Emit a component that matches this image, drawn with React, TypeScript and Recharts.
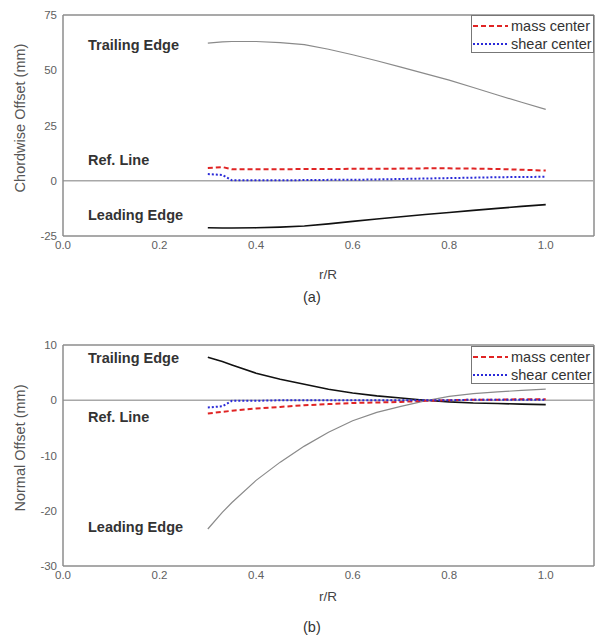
import {
  Line,
  LineChart,
  ReferenceLine,
  XAxis,
  YAxis,
} from 'recharts'

// spanwise stations (r/R)
const rPos = [0.3, 0.33, 0.35, 0.4, 0.45, 0.5, 0.55, 0.6, 0.65, 0.7, 0.75, 0.8, 0.85, 0.9, 0.95, 1.0]

// (a) chordwise offsets, mm
const chordTrailing = [62.3, 62.8, 63.0, 63.0, 62.5, 61.6, 59.5, 57.0, 54.3, 51.4, 48.5, 45.5, 42.2, 38.8, 35.5, 32.3]
const chordLeading = [-21.3, -21.4, -21.4, -21.3, -21.0, -20.5, -19.5, -18.4, -17.3, -16.3, -15.3, -14.4, -13.4, -12.5, -11.6, -10.8]
const chordMass = [5.8, 6.2, 5.2, 5.2, 5.2, 5.3, 5.3, 5.4, 5.4, 5.5, 5.6, 5.6, 5.5, 5.3, 5.0, 4.6]
const chordShear = [3.0, 2.6, 0.2, 0.2, 0.2, 0.3, 0.4, 0.4, 0.6, 0.8, 1.0, 1.2, 1.4, 1.6, 1.7, 1.8]

// (b) normal offsets, mm
const normalTrailing = [7.8, 7.0, 6.4, 4.9, 3.8, 2.9, 2.0, 1.3, 0.8, 0.4, 0.0, -0.3, -0.5, -0.6, -0.7, -0.8]
const normalLeading = [-23.3, -20.3, -18.5, -14.5, -11.2, -8.3, -5.8, -3.7, -2.2, -1.1, -0.1, 0.7, 1.2, 1.5, 1.8, 2.0]
const normalMass = [-2.4, -2.1, -1.9, -1.5, -1.2, -0.9, -0.7, -0.5, -0.4, -0.3, -0.1, 0.0, 0.1, 0.1, 0.2, 0.2]
const normalShear = [-1.3, -1.1, -0.1, -0.1, 0, 0, 0, 0, 0, 0, 0, 0, 0.1, 0.1, 0.1, 0.1]

const xTicks = [0, 0.2, 0.4, 0.6, 0.8, 1.0]
const chordTicks = [-25, 0, 25, 50, 75]
const normalTicks = [-30, -20, -10, 0, 10]

const FONT = '"Liberation Sans", Arial, sans-serif'
const AXIS = '#8c8c8c'
const GRAY = '#8a8a8a'
const RED = '#e02424'
const BLUE = '#2a2ad8'

const chordData = rPos.map((r, i) => ({
  r,
  trailing: chordTrailing[i],
  leading: chordLeading[i],
  mass: chordMass[i],
  shear: chordShear[i],
}))

const normalData = rPos.map((r, i) => ({
  r,
  trailing: normalTrailing[i],
  leading: normalLeading[i],
  mass: normalMass[i],
  shear: normalShear[i],
}))

const tickStyle = { fontSize: 11.5, fill: '#606060', fontFamily: FONT }

function Abs({ x, y, children, style }: { x: number; y: number; children: React.ReactNode; style?: React.CSSProperties }) {
  return (
    <div
      style={{
        position: 'absolute',
        left: x,
        top: y,
        transform: 'translateY(-50%)',
        whiteSpace: 'nowrap',
        fontFamily: FONT,
        lineHeight: 1,
        ...style,
      }}
    >
      {children}
    </div>
  )
}

function LegendBox({ top }: { top: number }) {
  return (
    <div
      style={{
        position: 'absolute',
        left: 471,
        top,
        width: 121,
        height: 36,
        border: '1px solid #777',
        background: '#fff',
        fontFamily: FONT,
        fontSize: 14.5,
        color: '#333',
      }}
    >
      {[
        { name: 'mass center', color: RED, dash: '5 3' },
        { name: 'shear center', color: BLUE, dash: '2 2' },
      ].map((it, i) => (
        <div key={it.name} style={{ position: 'absolute', left: 0, top: 1 + i * 18, height: 17, display: 'flex', alignItems: 'center' }}>
          <svg width={37} height={6} style={{ marginRight: 2 }}>
            <line x1={1} y1={3} x2={36} y2={3} stroke={it.color} strokeWidth={2} strokeDasharray={it.dash} />
          </svg>
          <span>{it.name}</span>
        </div>
      ))}
    </div>
  )
}

function Panel({
  data,
  ticks,
  domain,
  top,
  height,
  trailingColor,
  leadingColor,
}: {
  data: typeof chordData
  ticks: number[]
  domain: [number, number]
  top: number
  height: number
  trailingColor: string
  leadingColor: string
}) {
  return (
    <LineChart
      width={597}
      height={height}
      data={data}
      margin={{ top, right: 3, left: 0, bottom: height - top - 221 - 30 }}
    >
      <XAxis
        dataKey="r"
        type="number"
        domain={[0, 1.1]}
        ticks={xTicks}
        tickFormatter={(v) => Number(v).toFixed(1)}
        tick={tickStyle}
        tickLine={false}
        tickSize={3}
        height={30}
        stroke={AXIS}
        strokeWidth={1.5}
        allowDataOverflow
      />
      <YAxis
        domain={domain}
        ticks={ticks}
        tick={tickStyle}
        tickLine={false}
        tickSize={4}
        width={63}
        stroke={AXIS}
        strokeWidth={1.5}
        interval={0}
      />
      {/* frame: top and right edges */}
      <ReferenceLine y={domain[1]} stroke={AXIS} strokeWidth={1.5} />
      <ReferenceLine x={1.1} stroke={AXIS} strokeWidth={1.5} />
      <ReferenceLine y={0} stroke="#a8a8a8" strokeWidth={1.5} />
      <Line dataKey="trailing" stroke={trailingColor} strokeWidth={trailingColor === GRAY ? 1.2 : 1.6} dot={false} isAnimationActive={false} />
      <Line dataKey="leading" stroke={leadingColor} strokeWidth={leadingColor === GRAY ? 1.2 : 1.6} dot={false} isAnimationActive={false} />
      <Line dataKey="mass" stroke={RED} strokeWidth={2} strokeDasharray="5 3" dot={false} isAnimationActive={false} />
      <Line dataKey="shear" stroke={BLUE} strokeWidth={2} strokeDasharray="2 2" dot={false} isAnimationActive={false} />
    </LineChart>
  )
}

export default function App() {
  const note = { fontSize: 14.5, fontWeight: 700, color: '#333' }
  const caption = { fontSize: 13.5, color: '#444' }
  const yTitle: React.CSSProperties = {
    position: 'absolute',
    left: 20,
    transform: 'translate(-50%, -50%) rotate(-90deg)',
    whiteSpace: 'nowrap',
    fontFamily: FONT,
    fontSize: 14.5,
    color: '#555',
  }
  return (
    <div style={{ position: 'absolute', left: 0, top: 0, width: 597, height: 641, background: '#fff' }}>
      <div style={{ position: 'absolute', left: 0, top: 0 }}>
        <Panel data={chordData} ticks={chordTicks} domain={[-25, 75]} top={15} height={320} trailingColor={GRAY} leadingColor="#111" />
      </div>
      <div style={{ position: 'absolute', left: 0, top: 320 }}>
        <Panel data={normalData} ticks={normalTicks} domain={[-30, 10]} top={25} height={321} trailingColor="#111" leadingColor={GRAY} />
      </div>

      <LegendBox top={15} />
      <LegendBox top={346} />

      <Abs x={88} y={45} style={note}>Trailing Edge</Abs>
      <Abs x={88} y={160} style={note}>Ref. Line</Abs>
      <Abs x={88} y={215} style={note}>Leading Edge</Abs>
      <Abs x={88} y={358} style={note}>Trailing Edge</Abs>
      <Abs x={88} y={417} style={note}>Ref. Line</Abs>
      <Abs x={88} y={527} style={note}>Leading Edge</Abs>

      <Abs x={319} y={275} style={caption}>r/R</Abs>
      <Abs x={303} y={297} style={{ fontSize: 14.5, color: '#333' }}>(a)</Abs>
      <Abs x={319} y={597} style={caption}>r/R</Abs>
      <Abs x={303} y={627} style={{ fontSize: 14.5, color: '#333' }}>(b)</Abs>

      <div style={{ ...yTitle, top: 118 }}>Chordwise Offset (mm)</div>
      <div style={{ ...yTitle, top: 448 }}>Normal Offset (mm)</div>
    </div>
  )
}
